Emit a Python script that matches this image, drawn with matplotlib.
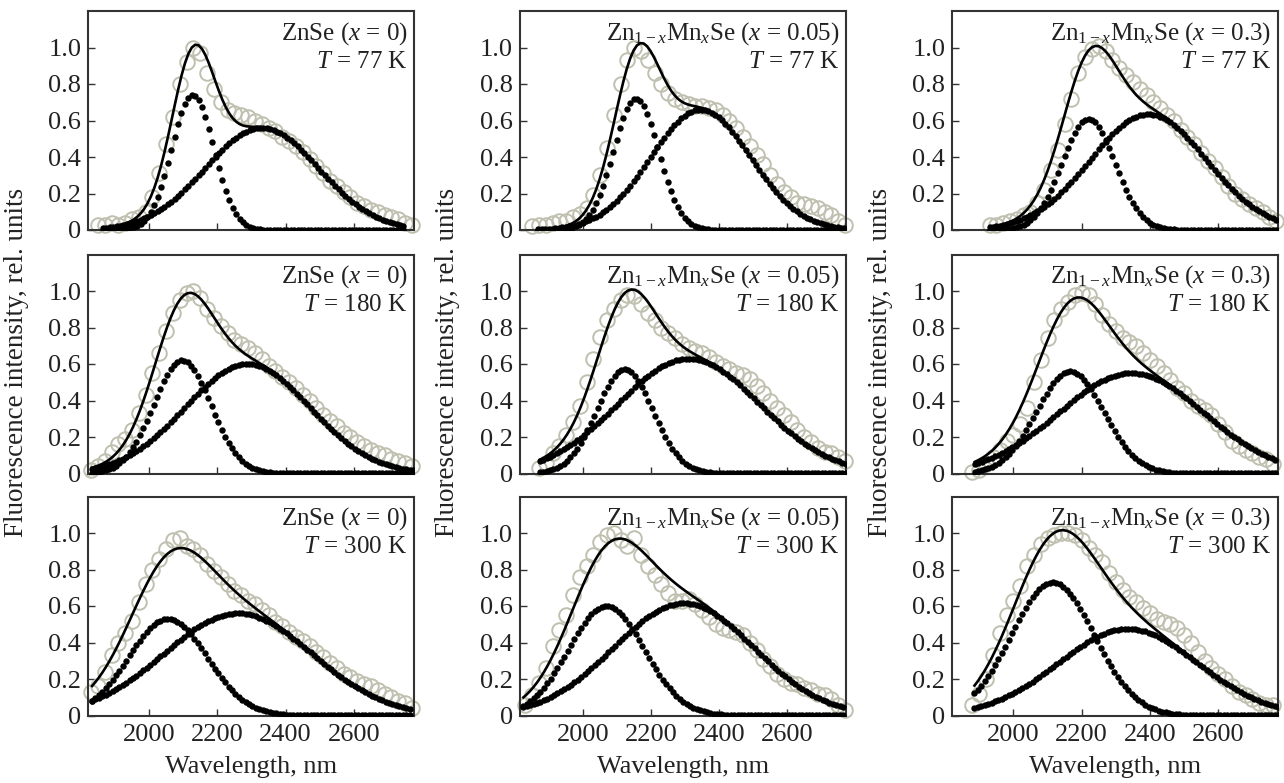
import numpy as np
import matplotlib.pyplot as plt

# Panels: rows are T = 77, 180, 300 K; columns are x = 0, 0.05, 0.3
temperatures = [77, 180, 300]
compositions = ["0", "0.05", "0.3"]
sample_names = ["ZnSe", r"Zn$_{1-x}$Mn$_x$Se", r"Zn$_{1-x}$Mn$_x$Se"]
x_limits = [(1822, 2777), (1814, 2773), (1821, 2776)]
wl_ticks = [2000, 2200, 2400, 2600]
int_ticks = [0, 0.2, 0.4, 0.6, 0.8, 1.0]
int_tick_labels = ["0", "0.2", "0.4", "0.6", "0.8", "1.0"]

# Measured spectra (open circles), 20 nm step from exp_start
exp_step = 20
exp_start = [[1850, 1850, 1930], [1830, 1870, 1880], [1830, 1830, 1880]]

exp_zns_77 = [0.03, 0.03, 0.04, 0.03, 0.04, 0.06, 0.07, 0.10, 0.18, 0.31, 0.47, 0.62, 0.80,
              0.92, 1.00, 0.97, 0.86, 0.77, 0.70, 0.66, 0.64, 0.63, 0.62, 0.60, 0.58, 0.56,
              0.54, 0.51, 0.49, 0.46, 0.43, 0.39, 0.35, 0.31, 0.27, 0.24, 0.21, 0.18, 0.15,
              0.13, 0.11, 0.10, 0.08, 0.07, 0.06, 0.04, 0.03]
exp_mn005_77 = [0.02, 0.03, 0.03, 0.04, 0.05, 0.05, 0.07, 0.09, 0.12, 0.19, 0.30, 0.45, 0.63,
                0.80, 0.93, 1.00, 0.98, 0.93, 0.86, 0.80, 0.75, 0.72, 0.70, 0.69, 0.68, 0.68,
                0.67, 0.66, 0.63, 0.60, 0.56, 0.51, 0.46, 0.41, 0.36, 0.30, 0.25, 0.21, 0.18,
                0.15, 0.14, 0.13, 0.12, 0.10, 0.08, 0.05, 0.03]
exp_mn03_77 = [0.03, 0.03, 0.04, 0.05, 0.06, 0.08, 0.10, 0.15, 0.22, 0.33, 0.44, 0.58, 0.72,
               0.86, 0.95, 0.99, 1.01, 0.98, 0.93, 0.89, 0.85, 0.81, 0.77, 0.74, 0.70, 0.67,
               0.63, 0.60, 0.55, 0.51, 0.47, 0.42, 0.38, 0.34, 0.29, 0.24, 0.20, 0.17, 0.14,
               0.12, 0.10, 0.07, 0.05]

exp_zns_180 = [0.02, 0.04, 0.07, 0.12, 0.16, 0.19, 0.24, 0.33, 0.43, 0.55, 0.66, 0.78, 0.88,
               0.95, 0.99, 1.00, 0.96, 0.90, 0.85, 0.81, 0.77, 0.73, 0.71, 0.69, 0.66, 0.63,
               0.59, 0.56, 0.53, 0.50, 0.47, 0.43, 0.40, 0.36, 0.32, 0.29, 0.26, 0.22, 0.20,
               0.17, 0.15, 0.13, 0.11, 0.10, 0.08, 0.07, 0.06, 0.04]
exp_mn005_180 = [0.03, 0.06, 0.11, 0.15, 0.21, 0.28, 0.37, 0.50, 0.63, 0.75, 0.84, 0.90, 0.95,
                 0.98, 0.97, 0.93, 0.88, 0.84, 0.80, 0.77, 0.74, 0.71, 0.69, 0.67, 0.66, 0.64,
                 0.61, 0.59, 0.57, 0.55, 0.54, 0.52, 0.48, 0.44, 0.40, 0.36, 0.32, 0.28, 0.24,
                 0.20, 0.17, 0.14, 0.12, 0.11, 0.09, 0.07]
exp_mn03_180 = [0.01, 0.02, 0.05, 0.09, 0.13, 0.18, 0.21, 0.27, 0.36, 0.50, 0.62, 0.74, 0.84,
                0.90, 0.94, 0.98, 0.99, 0.98, 0.93, 0.87, 0.82, 0.78, 0.74, 0.72, 0.70, 0.66,
                0.62, 0.59, 0.55, 0.51, 0.47, 0.44, 0.40, 0.37, 0.35, 0.32, 0.27, 0.23, 0.18,
                0.15, 0.13, 0.11, 0.09, 0.08, 0.05]

exp_zns_300 = [0.13, 0.16, 0.24, 0.33, 0.40, 0.45, 0.52, 0.62, 0.72, 0.80, 0.86, 0.91, 0.96,
               0.97, 0.93, 0.91, 0.88, 0.83, 0.79, 0.76, 0.72, 0.68, 0.66, 0.63, 0.61, 0.58,
               0.55, 0.51, 0.49, 0.46, 0.43, 0.41, 0.38, 0.35, 0.32, 0.29, 0.26, 0.23, 0.21,
               0.19, 0.17, 0.16, 0.14, 0.12, 0.10, 0.08, 0.07, 0.04]
exp_mn005_300 = [0.06, 0.11, 0.18, 0.26, 0.38, 0.47, 0.55, 0.66, 0.76, 0.82, 0.88, 0.95, 0.99,
                 1.00, 0.96, 0.93, 0.97, 0.88, 0.82, 0.77, 0.72, 0.67, 0.63, 0.63, 0.64, 0.61,
                 0.58, 0.54, 0.50, 0.48, 0.47, 0.46, 0.44, 0.40, 0.36, 0.31, 0.27, 0.23, 0.20,
                 0.18, 0.17, 0.15, 0.14, 0.12, 0.11, 0.09, 0.06, 0.03]
exp_mn03_300 = [0.06, 0.12, 0.20, 0.33, 0.45, 0.55, 0.63, 0.71, 0.82, 0.88, 0.94, 0.97, 0.99,
                1.00, 1.00, 0.99, 0.96, 0.92, 0.88, 0.84, 0.78, 0.73, 0.69, 0.65, 0.62, 0.59,
                0.56, 0.53, 0.51, 0.50, 0.48, 0.44, 0.40, 0.35, 0.30, 0.26, 0.23, 0.20, 0.16,
                0.13, 0.11, 0.09, 0.07, 0.06, 0.06]

measured = [[exp_zns_77, exp_mn005_77, exp_mn03_77],
            [exp_zns_180, exp_mn005_180, exp_mn03_180],
            [exp_zns_300, exp_mn005_300, exp_mn03_300]]

# Gaussian decomposition: peak wavelength (nm), height, FWHM (nm)
band1_peak = [[2128, 2155, 2220], [2097, 2122, 2166], [2055, 2068, 2115]]
band1_height = [[0.74, 0.72, 0.61], [0.62, 0.57, 0.56], [0.53, 0.60, 0.73]]
band1_fwhm = [[145, 155, 182], [198, 195, 232], [270, 262, 285]]
band2_peak = [[2330, 2345, 2395], [2288, 2310, 2345], [2260, 2295, 2335]]
band2_height = [[0.56, 0.66, 0.635], [0.60, 0.63, 0.55], [0.56, 0.615, 0.475]]
band2_fwhm = [[390, 345, 400], [430, 490, 500], [510, 485, 480]]
fit_start = [[1865, 1868, 1930], [1833, 1872, 1887], [1833, 1824, 1886]]
fit_stop = [[2745, 2768, 2776], [2777, 2773, 2776], [2770, 2772, 2776]]
fit_step = 10


def gauss(wl, peak, height, fwhm):
    return height * np.exp(-4 * np.log(2) * (wl - peak) ** 2 / fwhm ** 2)


plt.rcParams['font.family'] = 'Liberation Serif'
plt.rcParams['mathtext.fontset'] = 'custom'
plt.rcParams['mathtext.rm'] = 'Liberation Serif'
plt.rcParams['mathtext.it'] = 'Liberation Serif:italic'

text_color = "#222222"
frame_color = "#333333"
circle_color = "#c0c0b0"

fig = plt.figure(figsize=(12.84, 7.83), dpi=100)
W, H = 1284, 783
col_left = [88.3, 520, 952.3]
row_bottom = [230, 473.5, 715.5]
ax_w, ax_h = 326, 219

for r in range(3):
    for c in range(3):
        ax = fig.add_axes([col_left[c] / W, 1 - row_bottom[r] / H, ax_w / W, ax_h / H])

        y_exp = np.array(measured[r][c])
        wl_exp = exp_start[r][c] + exp_step * np.arange(len(y_exp))
        ax.plot(wl_exp, y_exp, 'o', ms=10.5, mfc='none', mec=circle_color, mew=1.4,
                clip_on=False, zorder=2)

        wl_fit = np.arange(fit_start[r][c], fit_stop[r][c] + 1, fit_step)
        b1 = gauss(wl_fit, band1_peak[r][c], band1_height[r][c], band1_fwhm[r][c])
        b2 = gauss(wl_fit, band2_peak[r][c], band2_height[r][c], band2_fwhm[r][c])
        ax.plot(wl_fit, b1, 'o', ms=4.6, color='black', mew=0, zorder=3)
        ax.plot(wl_fit, b2, 'o', ms=4.6, color='black', mew=0, zorder=3)
        ax.plot(wl_fit, b1 + b2, '-', lw=1.9, color='black', zorder=4)

        ax.set_xlim(*x_limits[c])
        ax.set_ylim(0, 1.2)
        ax.set_xticks(wl_ticks)
        ax.set_yticks(int_ticks)
        ax.set_yticklabels(int_tick_labels)
        if r < 2:
            ax.set_xticklabels([])
        ax.tick_params(direction='in', length=5, width=1.0, color=frame_color,
                       labelsize=19, labelcolor=text_color)
        ax.tick_params(axis='y', pad=5)
        ax.tick_params(axis='x', pad=6)
        for s in ax.spines.values():
            s.set_color(frame_color)
            s.set_linewidth(1.5)

        ax.text(0.979, 0.870, sample_names[c] + " ($x$ = " + compositions[c] + ")",
                transform=ax.transAxes, ha='right', va='baseline', fontsize=18,
                color=text_color)
        ax.text(0.979, 0.742, "$T$ = %d K" % temperatures[r],
                transform=ax.transAxes, ha='right', va='baseline', fontsize=18,
                color=text_color)

for c in range(3):
    fig.text((col_left[c] - 72) / W, 1 - 362 / H, "Fluorescence intensity, rel. units",
             rotation=90, ha='center', va='center', fontsize=19.5, color=text_color)
    fig.text((col_left[c] + ax_w / 2) / W, 1 - 767 / H, "Wavelength, nm",
             ha='center', va='center', fontsize=19, color=text_color)

fig.savefig("out.png", dpi=100)
